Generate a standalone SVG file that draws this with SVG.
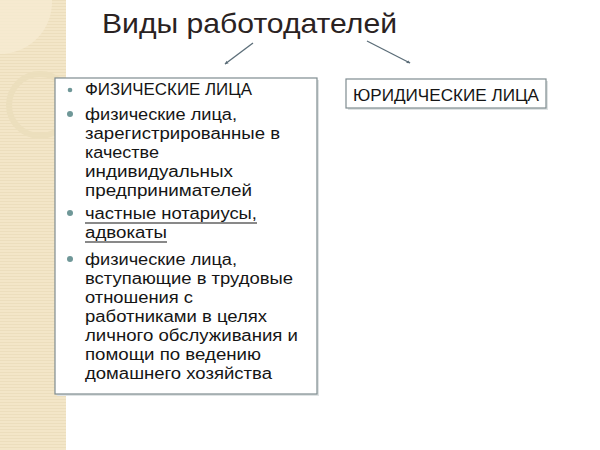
<svg xmlns="http://www.w3.org/2000/svg" width="600" height="450" viewBox="0 0 600 450">
  <defs>
    <style>
      .title { font-family: "Liberation Sans", "Open Sans", sans-serif; font-size: 28px; fill: #2a2222; }
      .txt { font-family: "Liberation Sans", "Open Sans", sans-serif; font-size: 16px; fill: #151515; }
      .box { fill: #ffffff; stroke: #7f8c90; stroke-width: 1.2; }
      .shadow { fill: #dfe3e4; }
      .bullet { fill: #6f9798; }
      .conn { stroke: #5b6d78; stroke-width: 1.3; fill: none; marker-end: url(#arr); }
      .ul { stroke: #151515; stroke-width: 1.2; }
    </style>
    <marker id="arr" viewBox="0 0 6 6" refX="5" refY="3" markerWidth="4" markerHeight="4" orient="auto" markerUnits="userSpaceOnUse">
      <path d="M0,0.5 L6,3 L0,5.5 z" fill="#5b6d78"/>
    </marker>
    <pattern id="tex" width="3" height="3" patternUnits="userSpaceOnUse">
      <rect width="3" height="3" fill="#f3e6c8"/>
      <rect y="0" width="3" height="1" fill="#eadbb8" opacity="0.7"/>
    </pattern>
  </defs>

  <rect width="600" height="450" fill="#ffffff"/>

  <g id="background-band">
    <rect x="0" y="0" width="66" height="450" fill="url(#tex)"/>
    <path d="M0,0 L52,0 A52,52 0 0 1 0,54 Z" fill="#f6ebd2" opacity="0.8"/>
    <circle cx="40" cy="105" r="31" fill="none" stroke="#ecdfbd" stroke-width="6"/>
  </g>

  <g id="title">
    <text class="title" x="102" y="33" textLength="295" lengthAdjust="spacingAndGlyphs">Виды работодателей</text>
  </g>

  <g id="connectors">
    <line class="conn" x1="253" y1="43" x2="225" y2="64"/>
    <line class="conn" x1="367" y1="41" x2="410" y2="63"/>
  </g>

  <g id="node-fiz">
    <rect class="shadow" x="57" y="80" width="262" height="316"/>
    <rect class="box" x="55" y="78" width="262" height="316"/>
    <circle class="bullet" cx="70" cy="90" r="2.3"/>
    <text class="txt" x="85" y="95" textLength="167" lengthAdjust="spacingAndGlyphs">ФИЗИЧЕСКИЕ ЛИЦА</text>
    <circle class="bullet" cx="70" cy="114" r="3"/>
    <text class="txt" x="85" y="120" textLength="152" lengthAdjust="spacingAndGlyphs">физические лица,</text>
    <text class="txt" x="85" y="139" textLength="195" lengthAdjust="spacingAndGlyphs">зарегистрированные в</text>
    <text class="txt" x="85" y="158" textLength="74" lengthAdjust="spacingAndGlyphs">качестве</text>
    <text class="txt" x="85" y="177" textLength="148" lengthAdjust="spacingAndGlyphs">индивидуальных</text>
    <text class="txt" x="85" y="196" textLength="167" lengthAdjust="spacingAndGlyphs">предпринимателей</text>
    <circle class="bullet" cx="70" cy="213" r="3"/>
    <text class="txt" x="85" y="219" textLength="172" lengthAdjust="spacingAndGlyphs">частные нотариусы,</text>
    <line class="ul" x1="85" y1="223" x2="257" y2="223"/>
    <text class="txt" x="85" y="238" textLength="82" lengthAdjust="spacingAndGlyphs">адвокаты</text>
    <line class="ul" x1="85" y1="242" x2="167" y2="242"/>
    <circle class="bullet" cx="70" cy="259" r="3"/>
    <text class="txt" x="85" y="265" textLength="152" lengthAdjust="spacingAndGlyphs">физические лица,</text>
    <text class="txt" x="85" y="284" textLength="208" lengthAdjust="spacingAndGlyphs">вступающие в трудовые</text>
    <text class="txt" x="85" y="303" textLength="108" lengthAdjust="spacingAndGlyphs">отношения с</text>
    <text class="txt" x="85" y="322" textLength="182" lengthAdjust="spacingAndGlyphs">работниками в целях</text>
    <text class="txt" x="85" y="341" textLength="213" lengthAdjust="spacingAndGlyphs">личного обслуживания и</text>
    <text class="txt" x="85" y="360" textLength="176" lengthAdjust="spacingAndGlyphs">помощи по ведению</text>
    <text class="txt" x="85" y="379" textLength="187" lengthAdjust="spacingAndGlyphs">домашнего хозяйства</text>
  </g>

  <g id="node-yur">
    <rect class="shadow" x="348" y="81" width="200" height="29"/>
    <rect class="box" x="346" y="79" width="200" height="29"/>
    <text class="txt" x="353" y="101" textLength="186" lengthAdjust="spacingAndGlyphs">ЮРИДИЧЕСКИЕ ЛИЦА</text>
  </g>
</svg>
